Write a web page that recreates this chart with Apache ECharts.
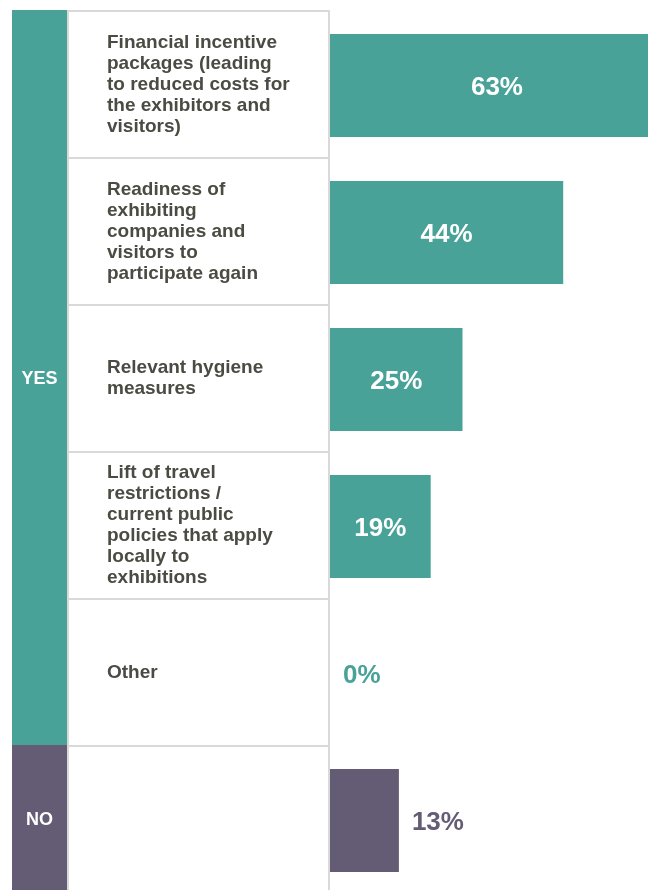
<!DOCTYPE html>
<html><head><meta charset="utf-8">
<script src="https://cdn.jsdelivr.net/npm/echarts@6/dist/echarts.min.js"></script>
<style>html,body{margin:0;padding:0;background:#fff}#c{width:648px;height:890px}</style>
</head><body><div id="c"></div>
<script>
const categories = [
  'Financial incentive\npackages (leading\nto reduced costs for\nthe exhibitors and\nvisitors)',
  'Readiness of\nexhibiting\ncompanies and\nvisitors to\nparticipate again',
  'Relevant hygiene\nmeasures',
  'Lift of travel\nrestrictions /\ncurrent public\npolicies that apply\nlocally to\nexhibitions',
  'Other',
  ''
];
const values = [63, 44, 25, 19, 0, 13];
const groups = ['YES', 'YES', 'YES', 'YES', 'YES', 'NO'];
const groupNames = ['YES', 'NO'];

const COLORS = { YES: '#49a298', NO: '#645c74' };
const FONT = '"Liberation Sans", Arial, sans-serif';
const groupCounts = groupNames.map(g => groups.filter(x => x === g).length);

const chart = echarts.init(document.getElementById('c'), null, { renderer: 'canvas' });
const rowTop = 11, rowH = 147, n = categories.length;

chart.setOption({
  animation: false,
  backgroundColor: '#fff',
  grid: [
    { left: 330, top: rowTop + 1, width: 530, height: rowH * n, outerBoundsMode: 'none', containLabel: false },
    { left: 68, top: rowTop, width: 261, height: rowH * n, outerBoundsMode: 'none', containLabel: false,
      show: true, borderColor: '#d9d9d9', borderWidth: 2, backgroundColor: '#fff' },
    { left: 12, top: 10, width: 55, height: rowH * n, outerBoundsMode: 'none', containLabel: false }
  ],
  xAxis: [
    { gridIndex: 0, type: 'value', min: 0, max: 100, show: false },
    { gridIndex: 1, type: 'value', show: false },
    { gridIndex: 2, type: 'category', data: ['g'], show: false }
  ],
  yAxis: [
    { gridIndex: 0, type: 'category', data: categories, inverse: true, show: false },
    { gridIndex: 1, type: 'category', data: categories, inverse: true,
      axisLine: { show: false }, axisTick: { show: false },
      splitLine: { show: true, lineStyle: { color: '#d9d9d9', width: 2 } },
      axisLabel: { inside: true, margin: 39, align: 'left', color: '#4b4b43', fontFamily: FONT,
        fontWeight: 'bold', fontSize: 19, lineHeight: 21, padding: [5, 0, 0, 0] } },
    { gridIndex: 2, type: 'value', min: 0, max: n, inverse: true, show: false }
  ],
  series: [
    {
      type: 'bar', xAxisIndex: 0, yAxisIndex: 0, barWidth: '70%',
      data: values.map((v, i) => {
        const c = COLORS[groups[i]];
        const big = v >= 15;
        return {
          value: v,
          itemStyle: { color: c },
          label: {
            show: true, position: big ? 'inside' : 'right', distance: 13, offset: [0, 2],
            formatter: '{c}%', color: big ? '#fff' : c,
            fontFamily: FONT, fontWeight: 'bold', fontSize: 26
          }
        };
      })
    },
    ...groupNames.map((g, k) => ({
      type: 'bar', xAxisIndex: 2, yAxisIndex: 2, stack: 'grp', barWidth: '100%',
      data: [groupCounts[k]],
      itemStyle: { color: COLORS[g] },
      label: { show: true, position: 'inside', formatter: g, color: '#fff', offset: [0, 2],
        fontFamily: FONT, fontWeight: 'bold', fontSize: 18 }
    }))
  ]
});
</script></body></html>
